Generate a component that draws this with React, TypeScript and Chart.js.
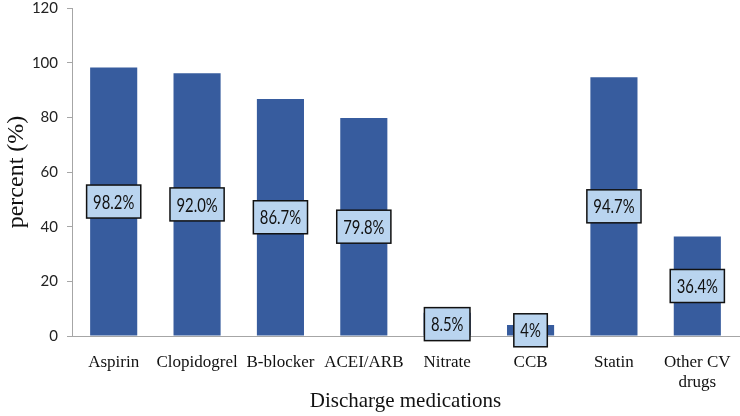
import React, { useEffect, useRef } from "react";
import { Chart, registerables } from "chart.js";

Chart.register(...registerables);

const categories: (string | string[])[] = [
  "Aspirin",
  "Clopidogrel",
  "B-blocker",
  "ACEI/ARB",
  "Nitrate",
  "CCB",
  "Statin",
  ["Other CV", "drugs"],
];
const barValues = [98.2, 96.1, 86.7, 79.8, 8.5, 4, 94.7, 36.4];
const barLabels = ["98.2%", "92.0%", "86.7%", "79.8%", "8.5%", "4%", "94.7%", "36.4%"];
const yTicks = [0, 20, 40, 60, 80, 100, 120];

const xTitle = "Discharge medications";
const yTitle = "percent (%)";

const BAR_COLOR = "#375c9e";
const BOX_FILL = "#b9d4ef";
const LABEL_FONT = "19px Lato, sans-serif";
const LABEL_SQUEEZE = 0.78;

const boxLabelPlugin = {
  id: "boxLabels",
  afterDatasetsDraw(chart: any) {
    const ctx = chart.ctx as CanvasRenderingContext2D;
    const meta = chart.getDatasetMeta(0);
    ctx.save();
    ctx.font = LABEL_FONT;
    meta.data.forEach((bar: any, i: number) => {
      const { x, y, base } = bar.getProps(["x", "y", "base"], true);
      const cy = (y + base) / 2;
      const text = barLabels[i];
      const w = ctx.measureText(text).width * LABEL_SQUEEZE + 13;
      const h = 33;
      ctx.fillStyle = BOX_FILL;
      ctx.fillRect(x - w / 2, cy - h / 2, w, h);
      ctx.lineWidth = 1.5;
      ctx.strokeStyle = "#111";
      ctx.strokeRect(x - w / 2, cy - h / 2, w, h);
      ctx.save();
      ctx.translate(x, cy + 1);
      ctx.scale(LABEL_SQUEEZE, 1);
      ctx.fillStyle = "#111";
      ctx.textAlign = "center";
      ctx.textBaseline = "middle";
      ctx.fillText(text, 0, 0);
      ctx.restore();
    });
    ctx.restore();
  },
};

export default function App() {
  const canvasRef = useRef<HTMLCanvasElement | null>(null);

  useEffect(() => {
    if (!canvasRef.current) return;
    const chart = new Chart(canvasRef.current, {
      type: "bar",
      data: {
        labels: categories,
        datasets: [
          {
            data: barValues,
            backgroundColor: BAR_COLOR,
            borderWidth: 0,
            barPercentage: 0.565,
            categoryPercentage: 1,
          },
        ],
      },
      options: {
        animation: false,
        responsive: true,
        maintainAspectRatio: false,
        layout: { padding: { top: 8, right: 1, left: 0, bottom: 0 } },
        plugins: {
          legend: { display: false },
          tooltip: { enabled: false },
        },
        scales: {
          x: {
            grid: { display: false },
            border: { display: true, color: "#a6a6a6", width: 1 },
            ticks: {
              color: "#111",
              font: { family: "'Liberation Serif', 'Times New Roman', serif", size: 17 },
              padding: 8,
              maxRotation: 0,
              minRotation: 0,
              autoSkip: false,
            },
            title: {
              display: true,
              text: xTitle,
              color: "#111",
              font: { family: "'Liberation Serif', 'Times New Roman', serif", size: 21 },
              padding: { top: 3, bottom: 2 },
            },
            afterFit: (scale: any) => {
              scale.height = 80;
            },
          },
          y: {
            min: 0,
            max: 120,
            afterBuildTicks: (scale: any) => {
              scale.ticks = yTicks.map((v) => ({ value: v }));
            },
            grid: {
              display: true,
              drawOnChartArea: false,
              drawTicks: true,
              tickLength: 5,
              color: "#a6a6a6",
            },
            border: { display: true, color: "#a6a6a6", width: 1 },
            ticks: {
              color: "#222",
              font: { family: "Lato, sans-serif", size: 15 },
              padding: 9,
            },
            title: {
              display: true,
              text: yTitle,
              color: "#111",
              font: { family: "'Liberation Serif', 'Times New Roman', serif", size: 24 },
              padding: { top: 2, bottom: 2 },
            },
            afterFit: (scale: any) => {
              scale.width = 72;
              scale.paddingTop = 0;
              scale.paddingBottom = 0;
            },
          },
        },
      },
      plugins: [boxLabelPlugin],
    });
    return () => chart.destroy();
  }, []);

  return (
    <div
      style={{
        position: "fixed",
        left: 0,
        top: 0,
        width: 740,
        height: 416,
        background: "#fff",
      }}
    >
      <canvas ref={canvasRef} />
    </div>
  );
}
